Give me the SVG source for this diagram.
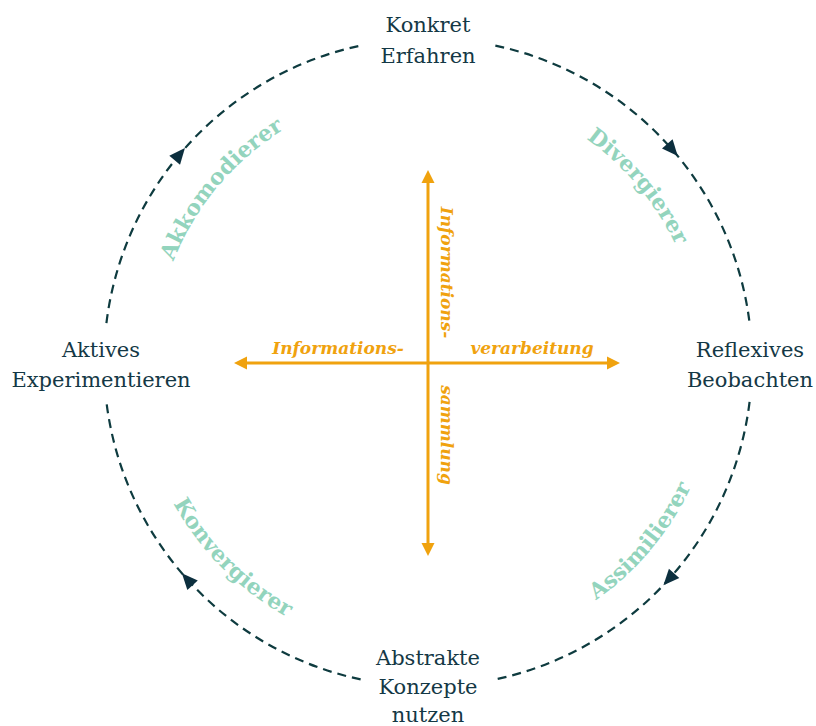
<svg xmlns="http://www.w3.org/2000/svg" width="816" height="726" viewBox="0 0 816 726">
  <style>
    .node { font-family: "DejaVu Serif", "Liberation Serif", serif; font-size: 21px; fill: #143845; text-anchor: middle; }
    .cycle { fill: none; stroke: #0e3b3f; stroke-width: 2.2; stroke-dasharray: 9 6; marker-mid: url(#darrow); }
    .axis { fill: none; stroke: #f0a20e; stroke-width: 3; marker-start: url(#oarrow); marker-end: url(#oarrow); }
    .axlbl { font-family: "DejaVu Serif", "Liberation Serif", serif; font-size: 17px; font-weight: bold; font-style: italic; fill: #f0a20e; text-anchor: middle; }
    .style { font-family: "DejaVu Serif", "Liberation Serif", serif; font-size: 22px; font-weight: bold; fill: #93d4bd; }
  </style>
  <defs>
    <marker id="darrow" markerUnits="userSpaceOnUse" markerWidth="20" markerHeight="20" refX="8" refY="0" orient="auto" overflow="visible">
      <path d="M0,-7 L16,0 L0,7 Z" fill="#0c2f3e"/>
    </marker>
    <marker id="oarrow" markerUnits="userSpaceOnUse" markerWidth="20" markerHeight="20" refX="1" refY="0" orient="auto-start-reverse" overflow="visible">
      <path d="M0,-6.5 L13,0 L0,6.5 Z" fill="#f0a20e"/>
    </marker>
    <path id="pDiv" d="M475.58,92.66 A274,274 0 0 1 702,362.5"/>
    <path id="pAkk" d="M154,362.5 A274,274 0 0 1 380.42,92.66"/>
    <path id="pAss" d="M478.53,649.08 A291,291 0 0 0 719,362.5"/>
    <path id="pKon" d="M138.11,387.86 A291,291 0 0 0 402.64,652.39"/>
  </defs>

  <g id="connectors">
    <path class="cycle" d="M495.36,45.58 A324,324 0 0 1 672.53,149.94 A324,324 0 0 1 749.58,323.01"/>
    <path class="cycle" d="M749.58,401.99 A324,324 0 0 1 668.78,579.30 A324,324 0 0 1 495.36,679.42"/>
    <path class="cycle" d="M360.64,679.42 A324,324 0 0 1 187.22,579.30 A324,324 0 0 1 106.42,401.99"/>
    <path class="cycle" d="M106.42,323.01 A324,324 0 0 1 179.80,154.24 A324,324 0 0 1 360.64,45.58"/>
  </g>

  <g id="axes">
    <path class="axis" d="M428,182 L428,544"/>
    <path class="axis" d="M246,363 L608,363"/>
    <text class="axlbl" x="338" y="354">Informations-</text>
    <text class="axlbl" x="532" y="354">verarbeitung</text>
    <text class="axlbl" transform="translate(441,272.5) rotate(90)">Informations-</text>
    <text class="axlbl" transform="translate(441,435) rotate(90)">sammlung</text>
  </g>

  <g id="node-konkret">
    <text class="node" x="428" y="32">Konkret</text>
    <text class="node" x="428" y="63">Erfahren</text>
  </g>
  <g id="node-reflexiv">
    <text class="node" x="750" y="357">Reflexives</text>
    <text class="node" x="750" y="387">Beobachten</text>
  </g>
  <g id="node-abstrakt">
    <text class="node" x="428" y="665">Abstrakte</text>
    <text class="node" x="428" y="694">Konzepte</text>
    <text class="node" x="428" y="722">nutzen</text>
  </g>
  <g id="node-aktiv">
    <text class="node" x="101" y="357">Aktives</text>
    <text class="node" x="101" y="387">Experimentieren</text>
  </g>

  <g id="styles">
    <text class="style"><textPath href="#pDiv" startOffset="50%" text-anchor="middle">Divergierer</textPath></text>
    <text class="style"><textPath href="#pAkk" startOffset="50%" text-anchor="middle">Akkomodierer</textPath></text>
    <text class="style"><textPath href="#pAss" startOffset="50%" text-anchor="middle">Assimilierer</textPath></text>
    <text class="style"><textPath href="#pKon" startOffset="50%" text-anchor="middle">Konvergierer</textPath></text>
  </g>
</svg>
